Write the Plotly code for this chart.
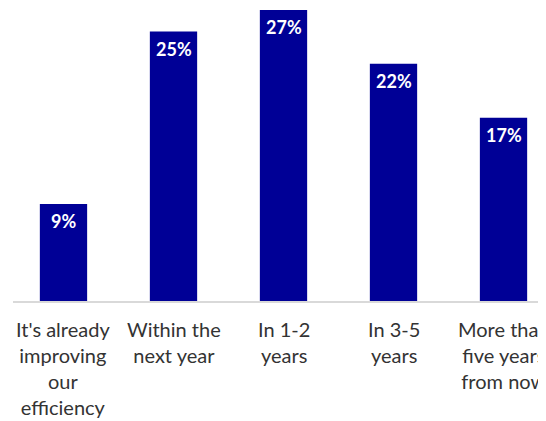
import plotly.graph_objects as go

categories = ["It's already<br>improving<br>our<br>efficiency", "Within the<br>next year", "In 1-2<br>years", "In 3-5<br>years", "More than<br>five years<br>from now"]
values = [9, 25, 27, 22, 17]
value_labels = ["9%", "25%", "27%", "22%", "17%"]

bar_color = "#000096"
font_family = "Lato, sans-serif"

fig = go.Figure()
fig.add_trace(go.Bar(
    x=list(range(len(categories))),
    y=values,
    marker=dict(color=bar_color, line=dict(width=0)),
    width=0.43,
    hoverinfo="skip",
))

for i, (v, t) in enumerate(zip(values, value_labels)):
    fig.add_annotation(x=i, y=v, text="<b>" + t + "</b>", showarrow=False,
                       yanchor="top", yshift=-4,
                       font=dict(family=font_family, size=18, color="white"))

for i, c in enumerate(categories):
    fig.add_annotation(x=i, y=0, text=c, showarrow=False,
                       yanchor="top", yshift=-14, align="center",
                       font=dict(family=font_family, size=20, color="#333333"))

fig.update_layout(
    width=546, height=421,
    margin=dict(l=5, r=0, t=0, b=127.5, autoexpand=False),
    paper_bgcolor="white", plot_bgcolor="white",
    showlegend=False,
    xaxis=dict(
        range=[-0.459, 4.459], automargin=False,
        showticklabels=False,
        showline=True, linecolor="#d9d9d9", linewidth=2,
        showgrid=False, zeroline=False, ticks="",
    ),
    yaxis=dict(range=[0, 27.18], visible=False, showgrid=False, zeroline=False, automargin=False),
)

fig.write_html("out.html")
